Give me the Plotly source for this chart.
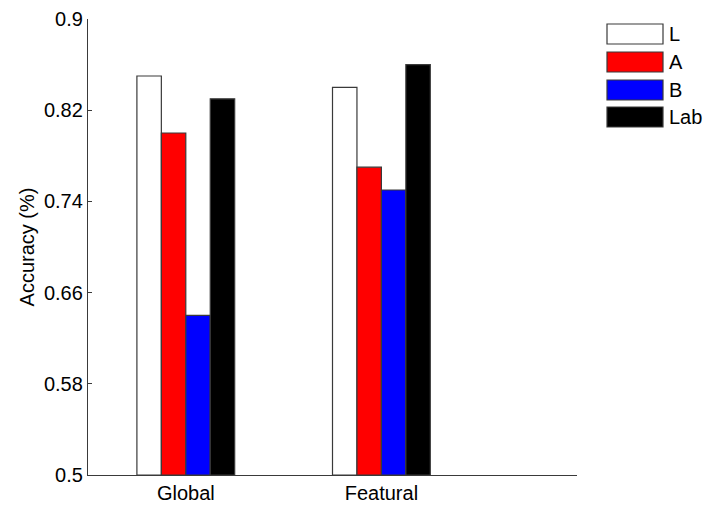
import plotly.graph_objects as go

categories = ["Global", "Featural"]
series_names = ["L", "A", "B", "Lab"]
L_vals = [0.85, 0.84]
A_vals = [0.80, 0.77]
B_vals = [0.64, 0.75]
Lab_vals = [0.83, 0.86]
y_ticks = [0.5, 0.58, 0.66, 0.74, 0.82, 0.9]
y_tick_labels = ["0.5", "0.58", "0.66", "0.74", "0.82", "0.9"]

colors = ["#ffffff", "#ff0000", "#0000ff", "#000000"]
all_vals = [L_vals, A_vals, B_vals, Lab_vals]
xpos = [1, 2]

FONT = "Liberation Sans, Arial, Helvetica, sans-serif"
W, H = 720, 510
ML, MR, MT, MB = 88, 143, 19, 35
EDGE = "#3a3a3a"

fig = go.Figure()
for name, vals, c in zip(series_names, all_vals, colors):
    fig.add_trace(go.Bar(
        x=xpos, y=[v - 0.5 for v in vals], base=0.5, name=name,
        marker=dict(color=c, line=dict(color=EDGE, width=1.2)),
        showlegend=False,
    ))

# custom legend (MATLAB-style wide swatches)
pw = W - ML - MR
ph = H - MT - MB
def px_x(p):
    return (p - ML) / pw
def px_y(p):
    return (H - MB - p) / ph

row_tops = [24, 52, 80, 107]
for i, (name, c) in enumerate(zip(series_names, colors)):
    t = row_tops[i]
    fig.add_shape(type="rect", xref="paper", yref="paper",
                  x0=px_x(607), x1=px_x(663), y0=px_y(t + 20), y1=px_y(t),
                  fillcolor=c, line=dict(color=EDGE, width=1.2))
    fig.add_annotation(xref="paper", yref="paper", x=px_x(667), y=px_y(t + 10),
                       text=name, showarrow=False, xanchor="left", yanchor="middle",
                       font=dict(family=FONT, size=20, color="#000000"))

fig.update_layout(
    width=W, height=H,
    margin=dict(l=ML, r=MR, t=MT, b=MB, pad=0, autoexpand=False),
    plot_bgcolor="white", paper_bgcolor="white",
    barmode="group", bargap=0.5, bargroupgap=0,
    font=dict(family=FONT, size=20, color="#000000"),
    xaxis=dict(range=[0.5, 3.0], tickvals=[1, 2, 3], ticktext=categories + [""],
               ticks="inside", ticklen=4, tickcolor=EDGE,
               showline=True, linecolor=EDGE, linewidth=1.3,
               showgrid=False, zeroline=False, layer="below traces",
               automargin=False, tickfont=dict(size=20)),
    yaxis=dict(range=[0.5, 0.9], tickvals=y_ticks, ticktext=y_tick_labels,
               ticks="inside", ticklen=4, tickcolor=EDGE,
               showline=True, linecolor=EDGE, linewidth=1.3,
               showgrid=False, zeroline=False, layer="below traces",
               automargin=False, tickfont=dict(size=20),
               title=dict(text="Accuracy (%)", font=dict(size=20), standoff=3)),
)

fig.write_html("out.html")
